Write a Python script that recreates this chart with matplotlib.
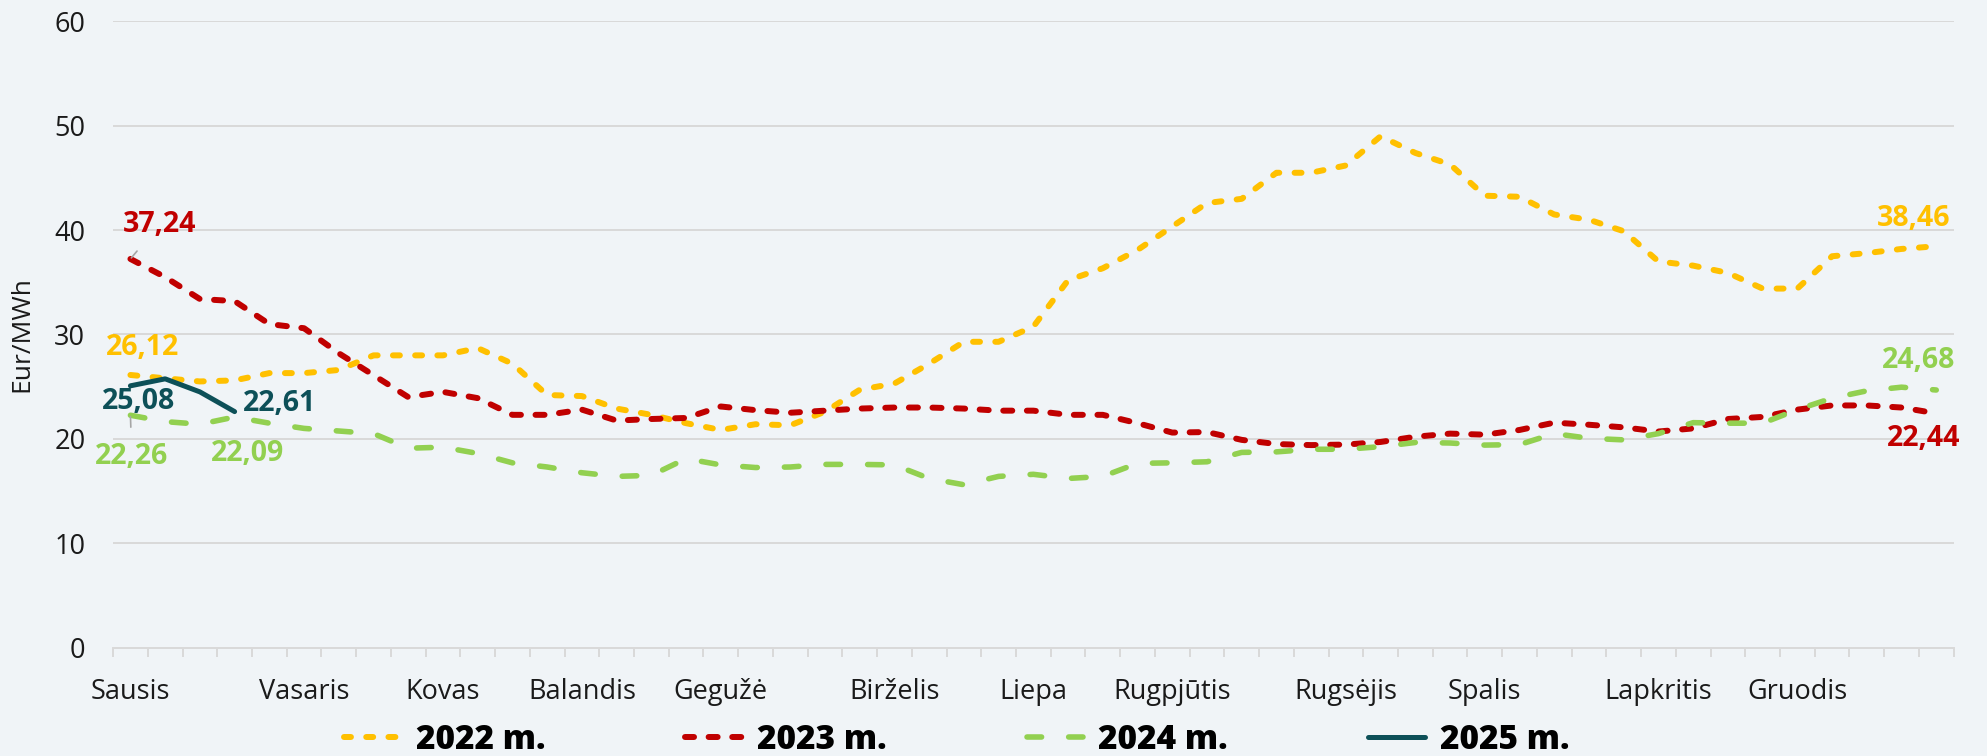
import matplotlib
matplotlib.use("Agg")
import matplotlib.pyplot as plt
import numpy as np

# ---- data (weekly averages, Eur/MWh) ----
months = ["Sausis", "Vasaris", "Kovas", "Balandis", "Gegužė", "Birželis", "Liepa",
          "Rugpjūtis", "Rugsėjis", "Spalis", "Lapkritis", "Gruodis"]
month_week = [0, 5, 9, 13, 17, 22, 26, 30, 35, 39, 44, 48]

y2022 = [26.12, 25.8, 25.5, 25.6, 26.3, 26.3, 26.6, 28.0, 28.0, 28.0, 28.7, 27.2, 24.2,
         24.1, 22.9, 22.3, 21.5, 20.85, 21.4, 21.3, 22.6, 24.7, 25.3, 27.2, 29.3, 29.3,
         30.75, 35.2, 36.35, 38.1, 40.35, 42.6, 43.0, 45.5, 45.5, 46.2, 49.0, 47.4, 46.3,
         43.3, 43.2, 41.5, 41.0, 39.9, 37.0, 36.6, 35.9, 34.4, 34.4, 37.5, 37.8, 38.2, 38.46]
y2023 = [37.24, 35.5, 33.4, 33.2, 31.0, 30.6, 28.2, 26.1, 24.0, 24.5, 23.9, 22.3, 22.3,
         22.8, 21.75, 21.9, 22.0, 23.1, 22.75, 22.5, 22.7, 22.9, 23.0, 23.0, 22.9, 22.7,
         22.7, 22.3, 22.3, 21.5, 20.6, 20.65, 19.9, 19.5, 19.4, 19.45, 19.7, 20.2, 20.5,
         20.4, 20.85, 21.55, 21.35, 21.1, 20.7, 21.0, 21.9, 22.1, 22.8, 23.2, 23.2, 23.0, 22.44]
y2024 = [22.26, 21.65, 21.4, 22.09, 21.5, 21.0, 20.75, 20.5, 19.1, 19.2, 18.6, 17.7, 17.3,
         16.75, 16.4, 16.5, 18.1, 17.5, 17.25, 17.3, 17.55, 17.55, 17.5, 16.2, 15.6, 16.4,
         16.6, 16.2, 16.4, 17.65, 17.7, 17.8, 18.7, 18.75, 19.0, 19.0, 19.25, 19.65, 19.6,
         19.4, 19.45, 20.5, 20.05, 19.9, 20.5, 21.55, 21.5, 21.5, 22.8, 23.9, 24.6, 24.95, 24.68]
y2025 = [25.08, 25.75, 24.5, 22.61]

C22, C23, C24, C25 = "#FFC000", "#C00000", "#92D050", "#0D5058"
BG = "#F0F4F7"

plt.rcParams.update({"font.family": ["Open Sans", "DejaVu Sans"], "font.size": 19.5,
                     "lines.scale_dashes": False})

fig = plt.figure(figsize=(19.87, 7.56), dpi=100, facecolor=BG)
ax = fig.add_axes([0.0569, 0.1435, 0.9263, 0.8281], facecolor=BG)

def wk(v): return np.arange(len(v))

ax.plot(wk(y2022), y2022, color=C22, lw=4.3, ls=(0, (5, 11)), dash_capstyle="round",
        label="2022 m.", zorder=3)
ax.plot(wk(y2023), y2023, color=C23, lw=4.3, ls=(0, (6.5, 10.5)), dash_capstyle="round",
        label="2023 m.", zorder=3)
ax.plot(wk(y2024), y2024, color=C24, lw=4.0, ls=(0, (10.5, 19.5)), dash_capstyle="round",
        label="2024 m.", zorder=3)
ax.plot(wk(y2025), y2025, color=C25, lw=3.6, solid_capstyle="round", label="2025 m.", zorder=4)

ax.set_xlim(-0.5, 52.5)
ax.set_ylim(0, 60)
ax.set_yticks(range(0, 61, 10))
ax.grid(axis="y", color="#D9D9D9", lw=1.4)
ax.set_axisbelow(True)
for s in ["top", "right", "left"]:
    ax.spines[s].set_visible(False)
ax.spines["bottom"].set_color("#D9D9D9")
ax.spines["bottom"].set_linewidth(1.4)

ax.set_xticks(month_week)
ax.set_xticklabels(months)
ax.set_xticks(np.arange(-0.5, 53, 1), minor=True)
ax.tick_params(axis="x", which="major", length=0, pad=22, labelcolor="#1a1a1a")
ax.tick_params(axis="x", which="minor", length=6.5, width=1.4, color="#D9D9D9")
ax.tick_params(axis="y", length=0, pad=20, labelcolor="#1a1a1a")
ax.set_ylabel("Eur/MWh", fontsize=19, color="#1a1a1a", labelpad=14)

# data labels (offsets in points)
def lab(series, i, text, col, dx, dy, leader=False):
    kw = {}
    if leader:
        kw["arrowprops"] = dict(arrowstyle="-", color="#A6A6A6", lw=1.2, shrinkA=9, shrinkB=1)
    ax.annotate(text, (i, series[i]), xytext=(dx, dy), textcoords="offset points",
                ha="center", va="center", color=col, fontsize=20.5, fontweight="bold", **kw)

lab(y2023, 0, "37,24", C23, 21, 25, leader=True)
lab(y2022, 0, "26,12", C22, 9, 20)
lab(y2025, 0, "25,08", C25, 6, -11)
lab(y2024, 0, "22,26", C24, 1, -30, leader=True)
lab(y2024, 3, "22,09", C24, 9, -26)
lab(y2025, 3, "22,61", C25, 32, 6)
lab(y2022, 52, "38,46", C22, -16, 20)
lab(y2024, 52, "24,68", C24, -13, 21)
lab(y2023, 52, "22,44", C23, -9, -18)

leg = fig.legend(loc="center", bbox_to_anchor=(0.4815, 0.021), ncol=4, frameon=False,
                 handlelength=1.7, handletextpad=0.45, columnspacing=4.2,
                 prop={"weight": 800, "size": 24})

fig.savefig("out.png", dpi=100, facecolor=BG)
